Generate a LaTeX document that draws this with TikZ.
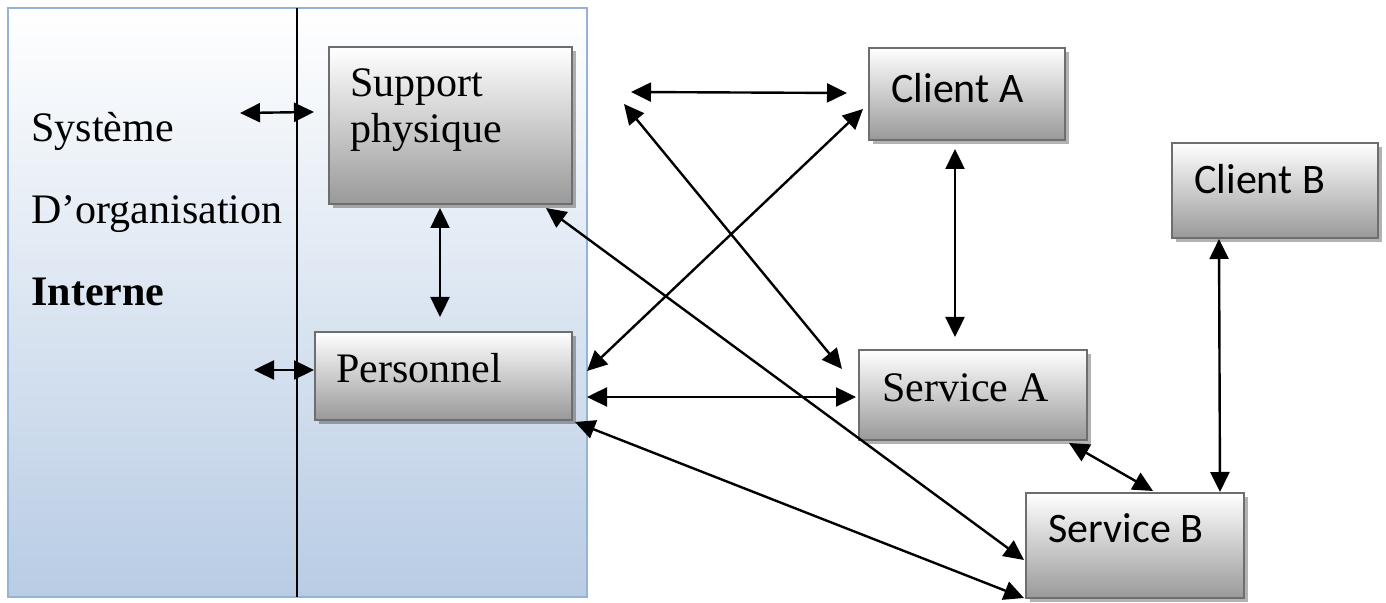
\documentclass[tikz,border=0pt]{standalone}
\usepackage{fontspec}
\setmainfont{Liberation Serif}
\newfontfamily\calibri{Carlito}
\usetikzlibrary{arrows.meta,calc,shadows}

\definecolor{panelblue}{RGB}{184,204,228}
\definecolor{paneledge}{RGB}{149,179,215}
\definecolor{boxedge}{RGB}{110,110,110}

\tikzset{
  box/.style={draw=boxedge, line width=1pt, rectangle, inner sep=0pt,
    top color=white, bottom color=black!40,
    drop shadow={shadow xshift=2pt, shadow yshift=-2pt, fill=black, opacity=0.3}},
  serif/.style={anchor=base west, inner sep=0pt, font=\fontsize{21}{25}\selectfont},
  sans/.style={anchor=base west, inner sep=0pt, font=\calibri\fontsize{21}{25}\selectfont},
  link/.style={{Triangle[length=10pt,width=9.5pt]}-{Triangle[length=10pt,width=9.5pt]}, line width=1.2pt},
}

\begin{document}
\begin{tikzpicture}[x=0.5pt,y=-0.5pt]
  \useasboundingbox (0,0) rectangle (1386,603);
  \fill[white] (0,0) rectangle (1386,603);

  % internal organisation panel
  \shade[top color=white, bottom color=panelblue] (8,8) rectangle (587,597);
  \draw[paneledge, line width=1.25pt] (8,8) rectangle (587,597);
  \draw[line width=0.75pt] (297,8) -- (297,597);

  \node[serif] (t1) at (31,142) {Système};
  \node[serif] (t2) at (31,224) {D’organisation};
  \node[serif, font=\bfseries\fontsize{21}{25}\selectfont] (t3) at (31,306) {Interne};

  % boxes
  \node[box, minimum width=121.5pt, minimum height=78.5pt] (sp) at (450.5,125.5) {};
  \node[box, minimum width=128.5pt, minimum height=44pt]   (pe) at (443.5,376) {};
  \node[box, minimum width=98pt,    minimum height=46pt]   (ca) at (967,94) {};
  \node[box, minimum width=103pt,   minimum height=47.5pt] (cb) at (1275,190.5) {};
  \node[box, minimum width=114pt,   minimum height=45pt]   (sa) at (973,395) {};
  \node[box, minimum width=109pt,   minimum height=52.5pt] (sb) at (1135,545.5) {};

  % box labels
  \node[serif] (l1) at (350,97) {Support};
  \node[serif] (l2) at (350,143) {physique};
  \node[serif] (l3) at (336,383) {Personnel};
  \node[serif] (l4) at (882,402) {Service A};
  \node[sans]  (l5) at (891,103) {Client A};
  \node[sans]  (l6) at (1194,194) {Client B};
  \node[sans]  (l7) at (1048,543) {Service B};

  % free ends on the left
  \coordinate (sysL) at (240,113);
  \coordinate (perL) at (254,370);

  % connectors
  \draw[link] (sysL) -- ($(sp.north west)+(-14,66)$);
  \draw[link] (perL) -- ($(pe.west)+(0,-6)$);
  \draw[link] ($(sp.south)+(-10.5,3)$) -- ($(pe.north)+(-3.5,-14)$);
  \draw[link] ($(sp.north east)+(58,46)$) -- ($(ca.west)+(-21,-1)$);
  \draw[link] ($(sp.north east)+(51,58)$) -- ($(sa.north west)+(-16,20)$);
  \draw[link] ($(ca.south west)+(-5,-32)$) -- ($(pe.north east)+(14,40)$);
  \draw[link] ($(pe.east)+(14,21)$) -- ($(sa.west)+(-2,2)$);
  \draw[link] ($(ca.south)+(-12,8)$) -- ($(sa.north)+(-18,-12)$);
  \draw[link] ($(sp.south east)+(-27,3)$) -- ($(sb.west)+(-1,14.5)$);
  \draw[link] ($(pe.south east)+(2,1)$) -- ($(sb.south west)+(-1,-1)$);
  \draw[link] ($(sa.south east)+(-19,2)$) -- ($(sb.north)+(18,-1)$);
  \draw[link] ($(cb.south)+(-56,0)$) -- ($(sb.north east)+(-25,0)$);
\end{tikzpicture}
\end{document}
